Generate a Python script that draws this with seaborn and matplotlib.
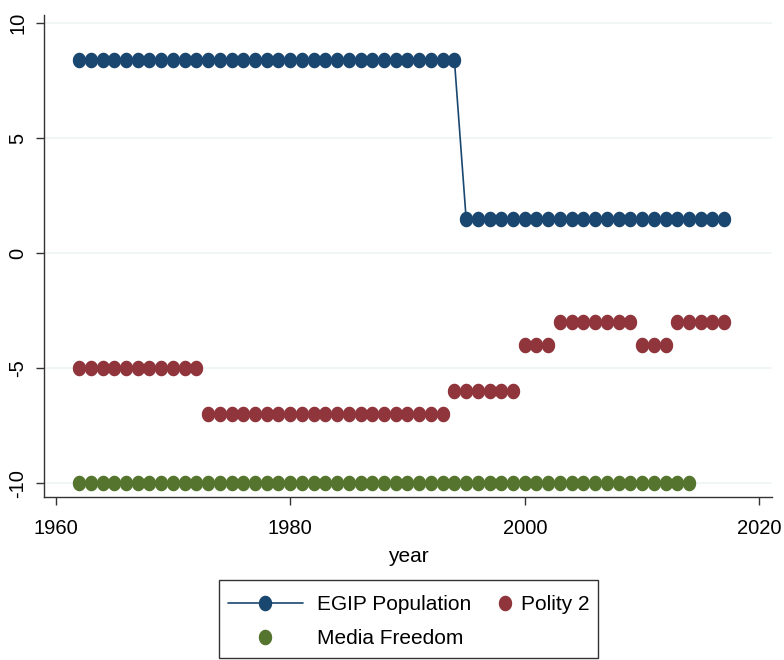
import numpy as np
import pandas as pd
import matplotlib
matplotlib.use("Agg")
import matplotlib.pyplot as plt
import seaborn as sns
from matplotlib.lines import Line2D
from matplotlib.patches import Rectangle
from matplotlib.path import Path

years_egip = list(range(1962, 2018))
egip = [8.4] * 33 + [1.5] * 23

years_polity = list(range(1962, 2018))
polity = [-5] * 11 + [-7] * 21 + [-6] * 6 + [-4] * 3 + [-3] * 7 + [-4] * 3 + [-3] * 5

years_media = list(range(1962, 2015))
media = [-10] * 53

labels = ["EGIP Population", "Polity 2", "Media Freedom"]

c_egip = "#1a476f"
c_pol = "#90353b"
c_med = "#55752f"

sns.set_style("white")
plt.rcParams['font.family'] = ['Liberation Sans', 'DejaVu Sans']
plt.rcParams['text.color'] = 'black'
plt.rcParams['axes.labelcolor'] = 'black'
plt.rcParams['xtick.color'] = '#333333'
plt.rcParams['ytick.color'] = '#333333'
plt.rcParams['xtick.labelcolor'] = 'black'
plt.rcParams['ytick.labelcolor'] = 'black'

# slightly tall elliptical dot, like the reference
t = np.linspace(0, 2 * np.pi, 60)
ell = Path(np.column_stack([0.86 * np.cos(t), np.sin(t)]), closed=True)

W, H = 784, 660
fig = plt.figure(figsize=(W / 100, H / 100), dpi=100)
ax = fig.add_axes([0.056, 0.247, 0.929, 0.73])

for y in [-10, -5, 0, 5, 10]:
    ax.axhline(y, color="#eef4f5", lw=1.2, zorder=0)

df_e = pd.DataFrame({"year": years_egip, "v": egip})
df_p = pd.DataFrame({"year": years_polity, "v": polity})
df_m = pd.DataFrame({"year": years_media, "v": media})

ms = 11.2
sns.lineplot(data=df_e, x="year", y="v", ax=ax, color=c_egip, lw=1.2,
             marker=ell, markersize=ms, markeredgewidth=0, zorder=3)
sns.scatterplot(data=df_p, x="year", y="v", ax=ax, color=c_pol, s=ms ** 2,
                marker=ell, linewidth=0, zorder=3)
sns.scatterplot(data=df_m, x="year", y="v", ax=ax, color=c_med, s=ms ** 2,
                marker=ell, linewidth=0, zorder=3)

ax.set_xlim(1959, 2021.1)
ax.set_ylim(-10.6, 10.35)
ax.set_xticks([1960, 1980, 2000, 2020])
ax.set_yticks([-10, -5, 0, 5, 10])
ax.set_yticklabels(["-10", "-5", "0", "5", "10"], rotation=90, va="center")
ax.tick_params(axis="both", labelsize=14.5, length=6, width=1, color="#333333",
               labelcolor="black", direction="out", left=True, bottom=True)
ax.tick_params(axis="x", pad=10)
ax.tick_params(axis="y", pad=6)
ax.set_xlabel("year", fontsize=15, labelpad=6, color="black")
ax.set_ylabel("")
for s in ["top", "right"]:
    ax.spines[s].set_visible(False)
for s in ["left", "bottom"]:
    ax.spines[s].set_color("#333333")
    ax.spines[s].set_linewidth(1)

# legend box drawn in figure pixel coordinates
def fx(px):
    return px / W

def fy(py):
    return 1 - py / H

fig.add_artist(Rectangle((fx(219), fy(658)), fx(598) - fx(219), fy(580) - fy(658),
                         transform=fig.transFigure, fill=False,
                         edgecolor="#333333", lw=1))
r1, r2 = 603, 637
fig.add_artist(Line2D([fx(228), fx(303)], [fy(r1), fy(r1)], color=c_egip, lw=1.2,
                      transform=fig.transFigure))
fig.add_artist(Line2D([fx(265)], [fy(r1)], color=c_egip, lw=0, marker=ell,
                      markersize=ms, markeredgewidth=0, transform=fig.transFigure))
fig.add_artist(Line2D([fx(505)], [fy(r1)], color=c_pol, lw=0, marker=ell,
                      markersize=ms, markeredgewidth=0, transform=fig.transFigure))
fig.add_artist(Line2D([fx(265)], [fy(r2)], color=c_med, lw=0, marker=ell,
                      markersize=ms, markeredgewidth=0, transform=fig.transFigure))
fig.text(fx(317), fy(r1 + 1), labels[0], fontsize=15, va="center", ha="left", color="black")
fig.text(fx(521), fy(r1 + 1), labels[1], fontsize=15, va="center", ha="left", color="black")
fig.text(fx(317), fy(r2 + 1), labels[2], fontsize=15, va="center", ha="left", color="black")

fig.savefig("out.png", dpi=100, facecolor="white")
